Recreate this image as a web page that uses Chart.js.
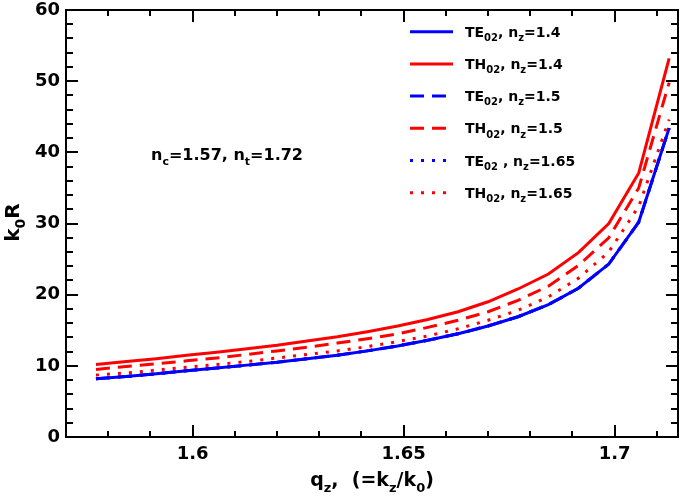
<!DOCTYPE html>
<html>
<head>
<meta charset="utf-8">
<script src="https://cdn.jsdelivr.net/npm/chart.js@4.4.0/dist/chart.umd.min.js"></script>
<style>
  html, body { margin: 0; padding: 0; background: #fff; }
</style>
</head>
<body>
<canvas id="chart" width="680" height="497"></canvas>
<script>
// q_z sample points
const qz = [1.5771, 1.5843, 1.5914, 1.5986, 1.6057, 1.6129, 1.6200, 1.6271, 1.6343, 1.6414,
            1.6486, 1.6557, 1.6629, 1.6700, 1.6771, 1.6843, 1.6914, 1.6986, 1.7057, 1.7129]

// k0R values
const te14  = [8.2, 8.5, 8.9, 9.3, 9.7, 10.1, 10.5, 11.0, 11.5, 12.1, 12.8, 13.6, 14.5, 15.6, 16.9, 18.6, 20.9, 24.3, 30.2, 43.4]
const te15  = [8.2, 8.5, 8.9, 9.3, 9.7, 10.1, 10.5, 11.0, 11.5, 12.1, 12.8, 13.6, 14.5, 15.6, 16.9, 18.6, 20.9, 24.3, 30.2, 43.4]
const te165 = [8.2, 8.5, 8.9, 9.3, 9.7, 10.1, 10.5, 11.0, 11.5, 12.1, 12.8, 13.6, 14.5, 15.6, 16.9, 18.6, 20.9, 24.3, 30.2, 43.4]
const th14  = [10.2, 10.6, 11.0, 11.5, 11.9, 12.4, 12.9, 13.5, 14.1, 14.8, 15.6, 16.5, 17.6, 19.0, 20.8, 22.9, 25.9, 30.0, 37.1, 53.2]
const th15  = [9.5, 9.9, 10.3, 10.7, 11.1, 11.6, 12.1, 12.6, 13.2, 13.8, 14.5, 15.4, 16.4, 17.6, 19.2, 21.2, 24.1, 28.0, 35.0, 49.8]
const th165 = [8.7, 9.0, 9.4, 9.8, 10.2, 10.6, 11.1, 11.6, 12.1, 12.7, 13.4, 14.2, 15.2, 16.4, 17.8, 19.7, 22.3, 26.0, 32.4, 44.6]

const seriesLabels = ['TE_{02}, n_{z}=1.4', 'TH_{02}, n_{z}=1.4', 'TE_{02}, n_{z}=1.5',
                      'TH_{02}, n_{z}=1.5', 'TE_{02} , n_{z}=1.65', 'TH_{02}, n_{z}=1.65']

const xTicks = [1.6, 1.65, 1.7]
const yTicks = [0, 10, 20, 30, 40, 50, 60]

const FONT = 'DejaVu Sans'
const BLUE = '#0000ff'
const RED = '#ff0000'
const DASH = [14, 8]
const DOT = [3, 8]

const pts = vals => vals.map((v, i) => ({ x: qz[i], y: v }))

const mk = (label, vals, color, dash) => ({
    label,
    data: pts(vals),
    borderColor: color,
    backgroundColor: color,
    borderWidth: 3,
    borderDash: dash,
    borderCapStyle: 'butt',
    pointRadius: 0,
    tension: 0,
    fill: false
})

// draws text with _{sub} markup
function drawRich(ctx, text, x, y, size, align) {
    const parts = []
    const re = /_\{([^}]*)\}/g
    let last = 0, m
    while ((m = re.exec(text))) {
        if (m.index > last) parts.push({ t: text.slice(last, m.index), sub: false })
        parts.push({ t: m[1], sub: true })
        last = re.lastIndex
    }
    if (last < text.length) parts.push({ t: text.slice(last), sub: false })
    const subSize = Math.round(size * 0.68)
    let w = 0
    parts.forEach(p => {
        ctx.font = `bold ${p.sub ? subSize : size}px "${FONT}"`
        p.w = ctx.measureText(p.t).width
        w += p.w
    })
    let cx = align === 'center' ? x - w / 2 : x
    ctx.textAlign = 'left'
    ctx.textBaseline = 'alphabetic'
    parts.forEach(p => {
        ctx.font = `bold ${p.sub ? subSize : size}px "${FONT}"`
        ctx.fillText(p.t, cx, p.sub ? y + size * 0.3 : y)
        cx += p.w
    })
}

const frame = {
    id: 'frame',
    afterDatasetsDraw(chart) {
        const { ctx, chartArea: a, scales: { x, y } } = chart
        ctx.save()
        ctx.strokeStyle = '#000'
        ctx.fillStyle = '#000'
        ctx.lineWidth = 2
        ctx.setLineDash([])
        ctx.strokeRect(a.left, a.top, a.right - a.left, a.bottom - a.top)

        ctx.beginPath()
        for (let v = 1.57; v <= 1.715 + 1e-9; v += 0.01) {
            const px = Math.round(x.getPixelForValue(v))
            const major = xTicks.some(t => Math.abs(t - v) < 1e-6)
            const len = major ? 12 : 6
            ctx.moveTo(px, a.bottom); ctx.lineTo(px, a.bottom - len)
            ctx.moveTo(px, a.top); ctx.lineTo(px, a.top + len)
        }
        for (let v = 0; v <= 60; v += 2) {
            const py = Math.round(y.getPixelForValue(v))
            const len = v % 10 === 0 ? 12 : 7
            ctx.moveTo(a.left, py); ctx.lineTo(a.left + len, py)
            ctx.moveTo(a.right, py); ctx.lineTo(a.right - len, py)
        }
        ctx.stroke()

        // legend
        chart.data.datasets.forEach((ds, i) => {
            const ly = 31.7 + i * 32.2
            ctx.beginPath()
            ctx.strokeStyle = ds.borderColor
            ctx.lineWidth = 3
            ctx.setLineDash(ds.borderDash || [])
            ctx.moveTo(410, ly); ctx.lineTo(453, ly)
            ctx.stroke()
            ctx.setLineDash([])
            ctx.fillStyle = '#000'
            drawRich(ctx, ds.label, 465, ly + 5, 14, 'left')
        })

        drawRich(ctx, 'n_{c}=1.57, n_{t}=1.72', 151, 160, 16, 'left')

        // axis titles
        drawRich(ctx, 'q_{z},  (=k_{z}/k_{0})', (a.left + a.right) / 2, 486, 19, 'center')
        ctx.save()
        ctx.translate(19, (a.top + a.bottom) / 2 - 1)
        ctx.rotate(-Math.PI / 2)
        drawRich(ctx, 'k_{0}R', 0, 0, 20, 'center')
        ctx.restore()
        ctx.restore()
    }
}

const tickFont = { family: FONT, size: 18, weight: 'bold' }

const noOverhang = s => {
    s.paddingTop = 0; s.paddingBottom = 0; s.paddingLeft = 0; s.paddingRight = 0
}

new Chart(document.getElementById('chart'), {
    type: 'line',
    data: {
        datasets: [
            mk(seriesLabels[0], te14, BLUE, []),
            mk(seriesLabels[1], th14, RED, []),
            mk(seriesLabels[2], te15, BLUE, DASH),
            mk(seriesLabels[3], th15, RED, DASH),
            mk(seriesLabels[4], te165, BLUE, DOT),
            mk(seriesLabels[5], th165, RED, DOT)
        ]
    },
    options: {
        responsive: false,
        animation: false,
        devicePixelRatio: 1,
        layout: { padding: { top: 10, right: 2, left: 0, bottom: 0 } },
        plugins: { legend: { display: false }, tooltip: { enabled: false } },
        scales: {
            x: {
                type: 'linear',
                min: 1.57,
                max: 1.715,
                afterBuildTicks: s => { s.ticks = xTicks.map(v => ({ value: v })) },
                afterFit: s => { s.height = 60; noOverhang(s) },
                grid: { display: false, drawTicks: false },
                border: { display: false },
                ticks: { font: tickFont, color: '#000', padding: 7, maxRotation: 0, autoSkip: false,
                         callback: v => String(v) }
            },
            y: {
                type: 'linear',
                min: 0,
                max: 60,
                afterBuildTicks: s => { s.ticks = yTicks.map(v => ({ value: v })) },
                afterFit: s => { s.width = 66; noOverhang(s) },
                grid: { display: false, drawTicks: false },
                border: { display: false },
                ticks: { font: tickFont, color: '#000', padding: 6, callback: v => String(v) }
            }
        }
    },
    plugins: [frame]
})
</script>
</body>
</html>
